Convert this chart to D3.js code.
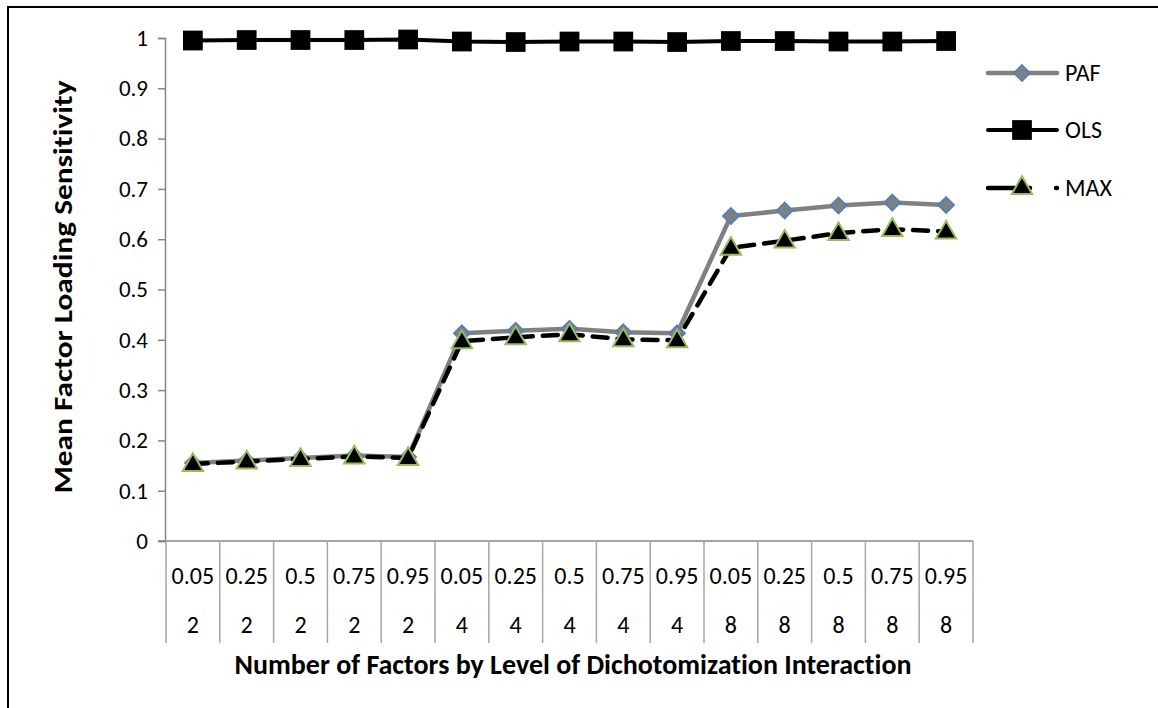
<!DOCTYPE html>
<html><head><meta charset="utf-8">
<script src="https://cdn.jsdelivr.net/npm/d3@7"></script>
<style>
body{margin:0;background:#fff;}
text{font-family:Carlito,Lato,"Liberation Sans",sans-serif;font-variant-ligatures:none;}
</style></head>
<body><svg id="c" width="1158" height="708"></svg>
<script>
const levels = ["0.05","0.25","0.5","0.75","0.95","0.05","0.25","0.5","0.75","0.95","0.05","0.25","0.5","0.75","0.95"];
const factors = ["2","2","2","2","2","4","4","4","4","4","8","8","8","8","8"];
const paf = [0.155,0.160,0.165,0.170,0.167,0.413,0.418,0.422,0.415,0.413,0.646,0.657,0.667,0.673,0.668];
const ols = [0.995,0.996,0.996,0.996,0.997,0.993,0.992,0.993,0.993,0.992,0.994,0.994,0.993,0.993,0.994];
const maxl = [0.153,0.158,0.163,0.168,0.165,0.397,0.405,0.411,0.401,0.399,0.583,0.597,0.612,0.620,0.615];
const yTicks = [0,0.1,0.2,0.3,0.4,0.5,0.6,0.7,0.8,0.9,1];
const seriesNames = ["PAF","OLS","MAX"];

const svg = d3.select("#c");
svg.append("rect").attr("x",8).attr("y",7).attr("width",1160).attr("height",720)
  .attr("fill","#fff").attr("stroke","#000").attr("stroke-width",2);

const idx = d3.range(levels.length);
const x = d3.scaleBand().domain(idx).range([166,973]);
const y = d3.scaleLinear().domain([0,1]).range([541,38]);
const cx = i => x(i) + x.bandwidth()/2;

// y axis
const ya = svg.append("g").attr("transform","translate(165,0)")
  .call(d3.axisLeft(y).tickValues(yTicks).tickSize(7).tickPadding(10).tickFormat(d3.format("~g")));
ya.select(".domain").attr("stroke","#868686").attr("stroke-width",1.5);
ya.selectAll(".tick line").attr("stroke","#868686").attr("stroke-width",1.5);
ya.selectAll(".tick text").attr("font-size",23).attr("fill","#000").attr("font-family","Carlito,Lato,sans-serif");

// x axis line
svg.append("line").attr("x1",158).attr("x2",973).attr("y1",y(0)).attr("y2",y(0))
  .attr("stroke","#868686").attr("stroke-width",1.5);
// separators
const bounds = d3.range(levels.length+1).map(i => i<levels.length ? x(i) : x(levels.length-1)+x.bandwidth());
svg.selectAll("line.sep").data(bounds).join("line").attr("class","sep")
  .attr("x1",d=>d).attr("x2",d=>d).attr("y1",y(0)).attr("y2",643)
  .attr("stroke","#a6a6a6").attr("stroke-width",1.5);
svg.selectAll("text.lv").data(idx).join("text").attr("class","lv")
  .attr("x",cx).attr("y",584).attr("text-anchor","middle").attr("font-size",24).text(i=>levels[i]);
svg.selectAll("text.fc").data(idx).join("text").attr("class","fc")
  .attr("x",cx).attr("y",633).attr("text-anchor","middle").attr("font-size",24).text(i=>factors[i]);

// titles
svg.append("text").attr("x",573).attr("y",674).attr("text-anchor","middle")
  .attr("font-size",28).attr("font-weight","bold").text("Number of Factors by Level of Dichotomization Interaction");
svg.append("text").attr("transform","translate(72,287) scale(0.92,1.12) rotate(-90)").attr("text-anchor","middle")
  .attr("font-size",28).attr("font-weight","bold").text("Mean Factor Loading Sensitivity");

const line = d3.line().x((d,i)=>cx(i)).y(d=>y(d));
const diamond = d3.symbol().type(d3.symbolDiamond2).size(160);
const square = d3.symbol().type(d3.symbolSquare).size(390);
const tri = d3.symbol().type(d3.symbolTriangle).size(180);

// PAF
svg.append("path").attr("d",line(paf)).attr("fill","none").attr("stroke","#808080").attr("stroke-width",4.5).attr("stroke-linejoin","round");
svg.selectAll("path.pm").data(paf).join("path").attr("class","pm")
  .attr("transform",(d,i)=>`translate(${cx(i)},${y(d)})`).attr("d",diamond)
  .attr("fill","#808080").attr("stroke","#4f81bd").attr("stroke-width",1.8);
// OLS
svg.append("path").attr("d",line(ols)).attr("fill","none").attr("stroke","#000").attr("stroke-width",4);
svg.selectAll("path.om").data(ols).join("path").attr("class","om")
  .attr("transform",(d,i)=>`translate(${cx(i)},${y(d)})`).attr("d",square).attr("fill","#000");
// MAX
svg.append("path").attr("d",line(maxl)).attr("fill","none").attr("stroke","#000").attr("stroke-width",4.5)
  .attr("stroke-dasharray","15,10").attr("stroke-linecap","round");
svg.selectAll("path.mm").data(maxl).join("path").attr("class","mm")
  .attr("transform",(d,i)=>`translate(${cx(i)},${y(d)+1})`).attr("d",tri)
  .attr("fill","#000").attr("stroke","#9bbb59").attr("stroke-width",2);

// legend
const ly = [73,130,188];
const lg = svg.append("g");
lg.append("line").attr("x1",988).attr("x2",1057).attr("y1",ly[0]).attr("y2",ly[0]).attr("stroke","#808080").attr("stroke-width",4.5).attr("stroke-linecap","round");
lg.append("path").attr("transform",`translate(1022,${ly[0]})`).attr("d",diamond).attr("fill","#808080").attr("stroke","#4f81bd").attr("stroke-width",1.8);
lg.append("line").attr("x1",988).attr("x2",1057).attr("y1",ly[1]).attr("y2",ly[1]).attr("stroke","#000").attr("stroke-width",4).attr("stroke-linecap","round");
lg.append("path").attr("transform",`translate(1022,${ly[1]})`).attr("d",square).attr("fill","#000");
lg.append("line").attr("x1",988).attr("x2",1057).attr("y1",ly[2]).attr("y2",ly[2]).attr("stroke","#000").attr("stroke-width",4.5)
  .attr("stroke-dasharray","42,26").attr("stroke-linecap","round");
lg.append("path").attr("transform",`translate(1022,${ly[2]})`).attr("d",tri).attr("fill","#000").attr("stroke","#9bbb59").attr("stroke-width",2);
lg.selectAll("text").data(seriesNames).join("text").attr("x",1065).attr("y",(d,i)=>ly[i]+8).attr("font-size",24).text(d=>d);
</script></body></html>
